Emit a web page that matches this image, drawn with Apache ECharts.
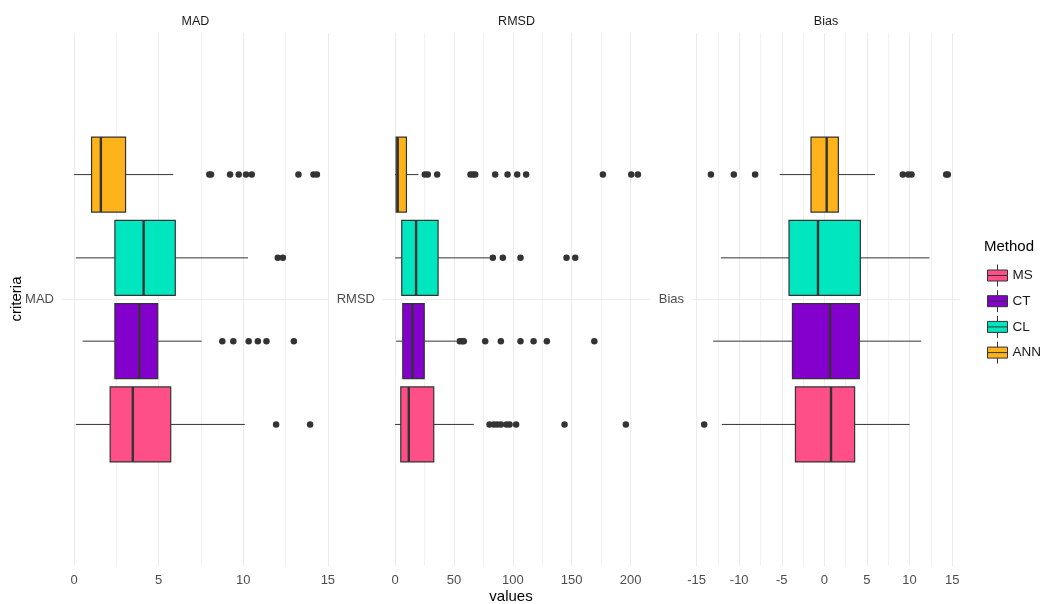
<!DOCTYPE html>
<html><head><meta charset="utf-8">
<script src="https://cdn.jsdelivr.net/npm/echarts@6/dist/echarts.min.js"></script>
<style>html,body{margin:0;padding:0;background:#fff}#c{width:1044px;height:604px}</style>
</head><body><div id="c"></div>
<script>
const methods = ['MS', 'CT', 'CL', 'ANN'];
const methodColors = ['#FF4F88', '#8400CD', '#00E6BF', '#FFB31A'];
const panels = ['MAD', 'RMSD', 'Bias'];

// [lower whisker, Q1, median, Q3, upper whisker], method order MS, CT, CL, ANN
const madBoxes = [
  [0.10, 2.13, 3.47, 5.71, 10.09],
  [0.50, 2.41, 3.85, 4.94, 7.54],
  [0.10, 2.41, 4.11, 5.98, 10.28],
  [0.00, 1.03, 1.58, 3.04, 5.86]
];
const madOutliers = [
  [11.94, 13.95],
  [8.76, 9.41, 10.32, 10.86, 11.37, 12.99],
  [12.04, 12.34],
  [7.99, 8.09, 9.22, 9.73, 10.16, 10.50, 13.26, 14.15, 14.35]
];
const rmsdBoxes = [
  [0.0, 4.8, 11.6, 32.8, 66.8],
  [0.85, 6.5, 14.7, 24.7, 52.1],
  [0.0, 5.6, 17.8, 36.5, 80.4],
  [0.0, 0.85, 2.2, 9.6, 19.8]
];
const rmsdOutliers = [
  [80.2, 83.8, 86.7, 89.8, 94.6, 97.2, 102.8, 143.9, 196.0],
  [54.9, 56.9, 58.3, 76.5, 89.8, 106.5, 117.6, 128.9, 169.2],
  [83.0, 91.5, 106.5, 145.6, 153.0],
  [25.2, 27.7, 35.7, 64.0, 66.3, 68.0, 85.0, 95.5, 103.7, 111.3, 176.5, 200.6, 206.2]
];
const biasBoxes = [
  [-12.04, -3.40, 0.78, 3.55, 10.00],
  [-13.05, -3.75, 0.66, 4.10, 11.37],
  [-12.15, -4.15, -0.75, 4.22, 12.34],
  [-5.24, -1.57, 0.27, 1.64, 5.93]
];
const biasOutliers = [
  [-14.11],
  [],
  [],
  [-13.32, -10.63, -8.13, 9.21, 9.84, 10.23, 14.30, 14.49]
];

const boxSets = [madBoxes, rmsdBoxes, biasBoxes];
const outlierSets = [madOutliers, rmsdOutliers, biasOutliers];
const splitNumbers = [3, 4, 6];

// layout
const FONT = '"Liberation Sans", Arial, sans-serif';
const gridLayout = [
  { left: 62, width: 267 },
  { left: 383, width: 267 },
  { left: 692, width: 268 }
];
const GRID_TOP = 33, GRID_HEIGHT = 533;
const DODGE = 0.75 / methods.length;
const BOX_HALF = 0.9 * DODGE / 2;
const yPos = i => (i - (methods.length - 1) / 2) * DODGE;

function extentOf(p) {
  let lo = Infinity, hi = -Infinity;
  boxSets[p].forEach(b => b.forEach(v => { lo = Math.min(lo, v); hi = Math.max(hi, v); }));
  outlierSets[p].forEach(o => o.forEach(v => { lo = Math.min(lo, v); hi = Math.max(hi, v); }));
  const pad = (hi - lo) * 0.05;
  return [lo - pad, hi + pad];
}

function renderBox(params, api) {
  const low = api.value(0), q1 = api.value(1), med = api.value(2), q3 = api.value(3), high = api.value(4), yc = api.value(5);
  const color = api.visual('color');
  const a = api.coord([q1, yc + BOX_HALF]);
  const b = api.coord([q3, yc - BOX_HALF]);
  const c = api.coord([low, yc]);
  const d = api.coord([high, yc]);
  const m1 = api.coord([med, yc + BOX_HALF]);
  const m2 = api.coord([med, yc - BOX_HALF]);
  const ls = { stroke: '#333333', lineWidth: 1 };
  return {
    type: 'group',
    children: [
      { type: 'line', shape: { x1: c[0], y1: c[1], x2: a[0], y2: c[1] }, style: ls },
      { type: 'line', shape: { x1: b[0], y1: d[1], x2: d[0], y2: d[1] }, style: ls },
      { type: 'rect', shape: { x: a[0], y: a[1], width: b[0] - a[0], height: b[1] - a[1] },
        style: { fill: color, stroke: '#333333', lineWidth: 1.2 } },
      { type: 'line', shape: { x1: m1[0], y1: m1[1], x2: m2[0], y2: m2[1] }, style: { stroke: '#333333', lineWidth: 2.4 } }
    ]
  };
}

const grids = [], xAxes = [], yAxes = [], series = [], graphics = [];
panels.forEach((name, p) => {
  const ext = extentOf(p);
  grids.push({ left: gridLayout[p].left, width: gridLayout[p].width, top: GRID_TOP, height: GRID_HEIGHT, containLabel: false });
  xAxes.push({
    type: 'value', gridIndex: p, min: ext[0], max: ext[1], splitNumber: splitNumbers[p],
    axisLine: { show: false }, axisTick: { show: false },
    axisLabel: { color: '#4d4d4d', fontSize: 13, fontFamily: FONT, margin: 8, showMinLabel: false, showMaxLabel: false },
    splitLine: { show: true, showMinLine: false, showMaxLine: false, lineStyle: { color: '#ebebeb', width: 1 } },
    minorTick: { show: false, splitNumber: 2 },
    minorSplitLine: { show: true, lineStyle: { color: '#f2f2f2', width: 1 } }
  });
  yAxes.push({
    type: 'value', gridIndex: p, min: -0.6, max: 0.6, interval: 0.6,
    axisLine: { show: false }, axisTick: { show: false },
    axisLabel: { color: '#4d4d4d', fontSize: 13, fontFamily: FONT, margin: 8,
      formatter: v => (Math.abs(v) < 1e-9 ? name : '') },
    splitLine: { show: true, showMinLine: false, showMaxLine: false, lineStyle: { color: '#ebebeb', width: 1 } }
  });
  methods.forEach((m, i) => {
    series.push({
      type: 'custom', name: m, xAxisIndex: p, yAxisIndex: p,
      itemStyle: { color: methodColors[i] },
      renderItem: renderBox,
      encode: { x: [0, 1, 2, 3, 4], y: 5 },
      data: [boxSets[p][i].concat([yPos(i)])],
      silent: true
    });
    series.push({
      type: 'scatter', name: m + ' outliers', xAxisIndex: p, yAxisIndex: p,
      symbolSize: 6.5, itemStyle: { color: '#333333', opacity: 1 }, silent: true,
      data: outlierSets[p][i].map(v => [v, yPos(i)])
    });
  });
  graphics.push({
    type: 'text', x: gridLayout[p].left + gridLayout[p].width / 2, y: 22,
    style: { text: name, fill: '#1a1a1a', font: '12.5px ' + FONT, textAlign: 'center', textVerticalAlign: 'middle' }
  });
});

graphics.push({
  type: 'text', x: (gridLayout[0].left + gridLayout[2].left + gridLayout[2].width) / 2, y: 597,
  style: { text: 'values', fill: '#000', font: '15px ' + FONT, textAlign: 'center', textVerticalAlign: 'middle' }
});
graphics.push({
  type: 'text', x: 17, y: 299, rotation: Math.PI / 2,
  style: { text: 'criteria', fill: '#000', font: '15px ' + FONT, textAlign: 'center', textVerticalAlign: 'middle' }
});
graphics.push({
  type: 'text', x: 984, y: 247,
  style: { text: 'Method', fill: '#000', font: '15px ' + FONT, textAlign: 'left', textVerticalAlign: 'middle' }
});

const legendIcon = 'path://M0,5.5H20V16.5H0Z M10,0V5.5 M10,16.5V22 M0,11H20';

const chart = echarts.init(document.getElementById('c'), null, { renderer: 'canvas' });
chart.setOption({
  animation: false,
  backgroundColor: '#ffffff',
  grid: grids,
  xAxis: xAxes,
  yAxis: yAxes,
  legend: {
    orient: 'vertical', left: 987, top: 264, padding: 0, itemWidth: 20, itemHeight: 22, itemGap: 2.7,
    selectedMode: false,
    textStyle: { fontSize: 13.5, color: '#1a1a1a', fontFamily: FONT },
    data: methods.map((m, i) => ({ name: m, icon: legendIcon,
      itemStyle: { color: methodColors[i], borderColor: '#333333', borderWidth: 1 } }))
  },
  graphic: graphics,
  series: series
});
</script>
</body></html>
